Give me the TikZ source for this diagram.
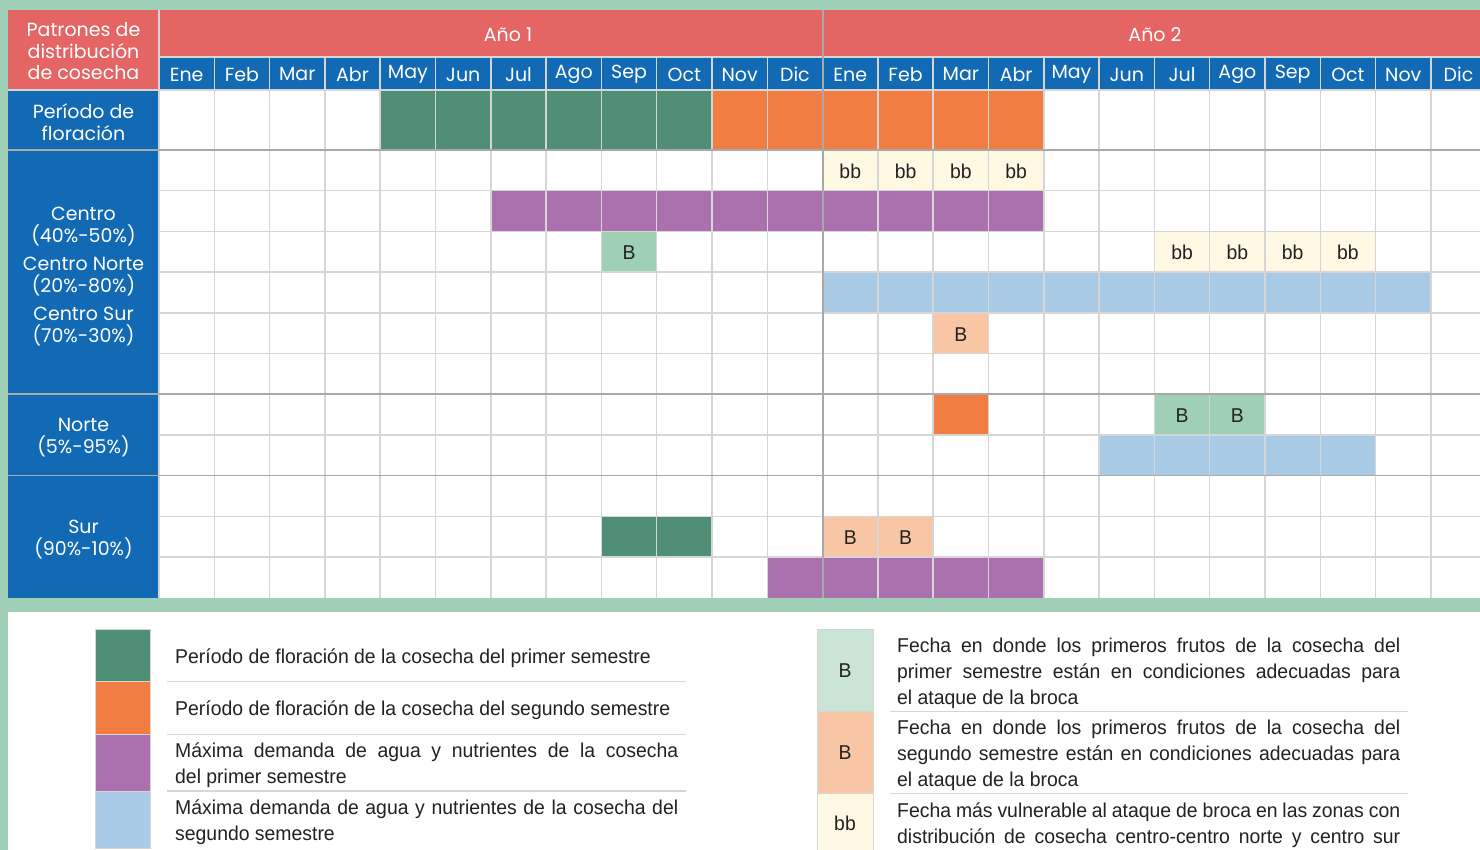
\documentclass[tikz,border=0pt]{standalone}
\usepackage{fontspec}
\setmainfont[FakeStretch=0.97]{Liberation Sans}
\newfontfamily\hdfont{Poppins}
\definecolor{bgg}{HTML}{9FCFB6}
\definecolor{hdred}{HTML}{E56464}
\definecolor{hdblue}{HTML}{126AB4}
\definecolor{dgreen}{HTML}{4E8F76}
\definecolor{orng}{HTML}{F27D42}
\definecolor{purp}{HTML}{AB70AE}
\definecolor{lblue}{HTML}{AACBE6}
\definecolor{lgreen}{HTML}{9FD0B5}
\definecolor{peach}{HTML}{F9C6A5}
\definecolor{cream}{HTML}{FFF8E3}
\definecolor{gridc}{HTML}{D6D6D6}
\definecolor{gridd}{HTML}{A9A9A9}
\definecolor{txt}{HTML}{222222}
\newcommand\mcell[4]{%
  \pgfmathsetmacro\xa{159+(#1-1)*55.3}%
  \pgfmathsetmacro\xb{\xa+55.3}%
  \ifnum#2=0 \def\ya{90}\def\yb{150}\else
  \pgfmathsetmacro\ya{150+(#2-1)*40.7}\pgfmathsetmacro\yb{\ya+40.7}\fi
  \fill[#3] (\xa,\ya) rectangle (\xb,\yb);
  \if\relax\detokenize{#4}\relax\else
  \node[celltext] (c#1r#2) at ({(\xa+\xb)/2},{(\ya+\yb)/2+1}) {#4};\fi
}
\begin{document}
\begin{tikzpicture}[x=1pt,y=-1pt,
  celltext/.style={font=\fontsize{20}{22}\selectfont, text=txt, inner sep=0pt},
  hdtext/.style={font=\hdfont\fontsize{19}{21.5}\selectfont, text=white, align=center, inner sep=0pt},
  mtext/.style={font=\hdfont\fontsize{19}{21}\selectfont, text=white, inner sep=0pt},
  legtext/.style={font=\fontsize{20}{26}\selectfont, text=txt, anchor=west, align=left, inner sep=0pt},
  swatch/.style={draw=gridc, line width=1pt},
  sep/.style={draw=gridc, line width=1.2pt}]
\useasboundingbox (0,0) rectangle (1480,850);
\fill[bgg] (0,0) rectangle (1480,850);
\fill[white] (8,612) rectangle (1480,850);
% header and frame
\fill[hdred] (8,10) rectangle (1480,57);
\fill[hdred] (8,57) rectangle (159,90);
\fill[hdblue] (159,57) rectangle (1480,90);
\fill[hdblue] (8,90) rectangle (159,598);
\fill[white] (159,90) rectangle (1480,598);
% cells
\foreach \c in {5,...,10} {\mcell{\c}{0}{dgreen}{}}
\foreach \c in {11,...,16} {\mcell{\c}{0}{orng}{}}
\foreach \c in {13,...,16} {\mcell{\c}{1}{cream}{bb}}
\foreach \c in {7,...,16} {\mcell{\c}{2}{purp}{}}
\mcell{9}{3}{lgreen}{B}
\foreach \c in {19,...,22} {\mcell{\c}{3}{cream}{bb}}
\foreach \c in {13,...,23} {\mcell{\c}{4}{lblue}{}}
\mcell{15}{5}{peach}{B}
\mcell{15}{7}{orng}{}
\foreach \c in {19,20} {\mcell{\c}{7}{lgreen}{B}}
\foreach \c in {18,...,22} {\mcell{\c}{8}{lblue}{}}
\foreach \c in {9,10} {\mcell{\c}{10}{dgreen}{}}
\foreach \c in {13,14} {\mcell{\c}{10}{peach}{B}}
\foreach \c in {12,...,16} {\mcell{\c}{11}{purp}{}}
% grid
\foreach \k in {1,...,23} {\draw[gridc, line width=1.5pt] ({159+\k*55.3},57) -- ({159+\k*55.3},598);}
\draw[gridc, line width=1.5pt] (159,10) -- (159,598);
\draw[gridc, line width=1.5pt] (159,57) -- (1480,57);
\draw[gridc, line width=1.5pt] (8,90) -- (1480,90);
\foreach \k in {1,...,10} {\draw[gridc, line width=1.5pt] (159,{150+\k*40.7}) -- (1480,{150+\k*40.7});}
\foreach \yy in {150,394.2,475.6} {\draw[gridd, line width=1.5pt] (8,\yy) -- (1480,\yy);}
\draw[gridd, line width=1.5pt] (823,10) -- (823,598);
% header texts
\node[hdtext] (pat) at (83.5,51.5) {Patrones de\\distribución\\de cosecha};
\node[mtext] (y1) at (508,34.5) {Año 1};
\node[mtext] (y2) at (1155,34.5) {Año 2};
\foreach \m [count=\i] in {Ene,Feb,Mar,Abr,May,Jun,Jul,Ago,Sep,Oct,Nov,Dic,Ene,Feb,Mar,Abr,May,Jun,Jul,Ago,Sep,Oct,Nov,Dic}
  {\node[mtext] (m\i) at ({159+(\i-0.5)*55.3},74.5) {\m};}
% row labels
\node[hdtext] (flor) at (83.5,122) {Período de\\floración};
\node[hdtext] (cen) at (83.5,276.5) {Centro\\(40\%-50\%)\\[7pt]Centro Norte\\(20\%-80\%)\\[7pt]Centro Sur\\(70\%-30\%)};
\node[hdtext] (nor) at (83.5,437.5) {Norte\\(5\%-95\%)};
\node[hdtext] (sur) at (83.5,539.5) {Sur\\(90\%-10\%)};
% legend left
\draw[swatch, fill=dgreen] (95,629) rectangle (150,681);
\draw[swatch, fill=orng] (95,681) rectangle (150,734);
\draw[swatch, fill=purp] (95,734) rectangle (150,791);
\draw[swatch, fill=lblue] (95,791) rectangle (150,848);
\draw[sep] (167,681.5) -- (686,681.5);
\draw[sep] (167,734.5) -- (686,734.5);
\draw[sep] (167,791) -- (686,791);
\node[legtext] (l1) at (175,658) {Período de floración de la cosecha del primer semestre};
\node[legtext] (l2) at (175,710) {Período de floración de la cosecha del segundo semestre};
\node[legtext] (l3) at (175,765.5) {\makebox[503pt][s]{Máxima demanda de agua y nutrientes de la cosecha}\\del primer semestre};
\node[legtext] (l4) at (175,822) {\makebox[503pt][s]{Máxima demanda de agua y nutrientes de la cosecha del}\\segundo semestre};
% legend right
\draw[swatch, fill=lgreen!55!white] (817,629) rectangle (873,711);
\draw[swatch, fill=peach] (817,711) rectangle (873,793);
\draw[swatch, fill=cream] (817,793) rectangle (873,852);
\node[celltext] (kb1) at (845,671) {B};
\node[celltext] (kb2) at (845,753) {B};
\node[celltext] (kbb) at (845,823) {bb};
\draw[sep] (890,711.5) -- (1408,711.5);
\draw[sep] (890,793.5) -- (1408,793.5);
\node[legtext] (r1) at (897,673) {\makebox[503pt][s]{Fecha en donde los primeros frutos de la cosecha del}\\\makebox[503pt][s]{primer semestre están en condiciones adecuadas para}\\el ataque de la broca};
\node[legtext] (r2) at (897,755) {\makebox[503pt][s]{Fecha en donde los primeros frutos de la cosecha del}\\\makebox[503pt][s]{segundo semestre están en condiciones adecuadas para}\\el ataque de la broca};
\node[legtext] (r3) at (897,825) {\makebox[503pt][s]{Fecha más vulnerable al ataque de broca en las zonas con}\\\makebox[503pt][s]{distribución de cosecha centro-centro norte y centro sur}};
\end{tikzpicture}
\end{document}
